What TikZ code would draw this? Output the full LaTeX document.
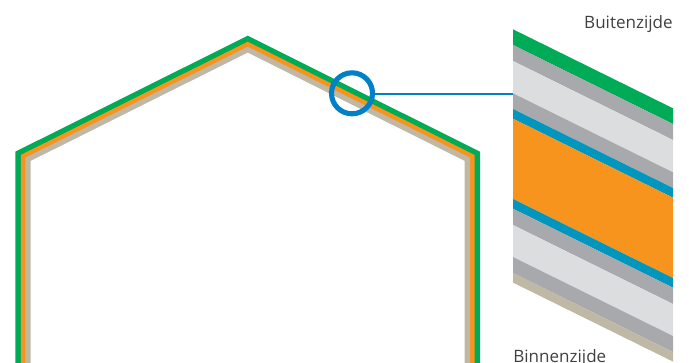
\documentclass[tikz,border=0pt]{standalone}
\usepackage{fontspec}
\setmainfont{Open Sans}
\definecolor{wallgreen}{HTML}{00AB57}
\definecolor{wallorange}{HTML}{F7941D}
\definecolor{walltan}{HTML}{BFB8A5}
\definecolor{wallgrey}{HTML}{A7A9AC}
\definecolor{walllight}{HTML}{DCDDDE}
\definecolor{wallblue}{HTML}{0096BE}
\definecolor{loupeblue}{HTML}{0080C6}
\tikzset{
  sidelabel/.style={text=black!75,font=\fontsize{9.7pt}{11pt}\selectfont,inner sep=0pt},
  loupe/.style={circle,draw=loupeblue,line width=2.9pt,minimum size=0.82cm,inner sep=0pt}
}
\begin{document}
\begin{tikzpicture}[x=0.02cm,y=-0.02cm,line cap=butt,line join=miter]
  \useasboundingbox (0,0) rectangle (689,362);
  % hexagon, outer layer first
  \foreach \d/\a/\c in {0/0/wallgreen,5.5/6/wallorange,10/11/walltan,15.3/17/white} {
    \fill[\c] ({15.3+\d},363) -- ({15.3+\d},{151.7+\a-0.5*\d}) -- (247.7,{35.7+\a})
      -- ({480-\d},{151.7+\a-0.5*\d}) -- ({480-\d},363) -- cycle;
  }
  % wall section
  \foreach \t/\b/\c in {29.3/45/wallgreen,45/61/wallgrey,61/93.3/walllight,93.3/109/wallgrey,
      109/118.7/wallblue,118.7/199/wallorange,199/208.7/wallblue,208.7/225/wallgrey,
      225/257/walllight,257/273/wallgrey,273/282.6/walltan} {
    \fill[\c] (513,\t) -- (673,{\t+79}) -- (673,{\b+79}) -- (513,\b) -- cycle;
  }
  \node[loupe] (loupe) at (352,93.3) {};
  \coordinate (wall) at (513,94);
  \draw[draw=loupeblue,line width=1.15pt] (loupe.east |- wall) -- (wall);
  \node[sidelabel,anchor=base east] (outside) at (673,28) {Buitenzijde};
  \node[sidelabel,anchor=base west] (inside) at (513,362) {Binnenzijde};
\end{tikzpicture}
\end{document}
